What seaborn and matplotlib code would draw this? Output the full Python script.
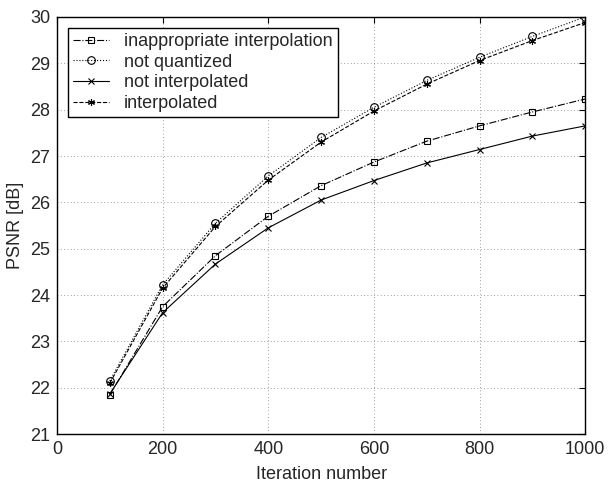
import pandas as pd
import matplotlib
matplotlib.use("Agg")
import matplotlib.pyplot as plt
import seaborn as sns

iterations = [100, 200, 300, 400, 500, 600, 700, 800, 900, 1000]
inappropriate = [21.85, 23.75, 24.85, 25.70, 26.36, 26.87, 27.32, 27.65, 27.95, 28.23]
not_quantized = [22.15, 24.22, 25.55, 26.57, 27.40, 28.05, 28.63, 29.13, 29.58, 30.00]
not_interp = [21.87, 23.62, 24.67, 25.45, 26.05, 26.47, 26.85, 27.14, 27.43, 27.65]
interp = [22.10, 24.15, 25.48, 26.48, 27.30, 27.97, 28.55, 29.06, 29.49, 29.88]

series = [
    ("inappropriate interpolation", inappropriate, "-.", "s", 4.5),
    ("not quantized", not_quantized, ":", "o", 5.5),
    ("not interpolated", not_interp, "-", "x", 4.5),
    ("interpolated", interp, "--", (6, 2, 0), 5),
]

sns.set_style("white")
plt.rcParams["font.family"] = ["Liberation Sans", "DejaVu Sans"]

fig = plt.figure(figsize=(6.16, 4.84), dpi=100)
ax = fig.add_axes([0.0925, 0.103, 0.8575, 0.862])

for name, vals, ls, mk, ms in series:
    df = pd.DataFrame({"it": iterations, "psnr": vals})
    sns.lineplot(data=df, x="it", y="psnr", ax=ax, color="black", linestyle=ls,
                 linewidth=0.8, marker=mk, markersize=ms, markerfacecolor="none",
                 markeredgecolor="black", markeredgewidth=0.8, label=name)

ax.set_xlim(0, 1000)
ax.set_ylim(21, 30)
ax.set_xticks(range(0, 1001, 200))
ax.set_yticks(range(21, 31))
ax.set_xlabel("Iteration number", fontsize=13, labelpad=6)
ax.set_ylabel("PSNR [dB]", fontsize=13, labelpad=4)
ax.grid(True, linestyle=(0, (1, 3)), color="black", linewidth=0.6, alpha=0.5)
ax.tick_params(direction="in", top=True, right=True, labelsize=13, length=4,
               color="black", pad=5)
for s in ax.spines.values():
    s.set_color("black")
    s.set_linewidth(1.0)

leg = ax.legend(loc="upper left", fontsize=13, frameon=True, fancybox=False,
                edgecolor="black", handlelength=2.0, borderpad=0.3, labelspacing=0.2,
                handletextpad=0.8, borderaxespad=0.6)
leg.get_frame().set_linewidth(1.0)
leg.get_frame().set_alpha(1)

fig.savefig("out.png", dpi=100)
